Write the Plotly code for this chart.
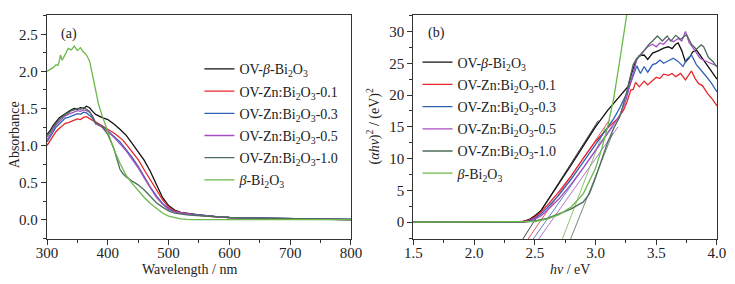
import plotly.graph_objects as go

# ---------------- data: panel (a) absorbance ----------------
wl_main = [300, 305, 310, 315, 320, 325, 330, 335, 340, 345, 350, 355, 360, 365, 370, 375, 380,
           390, 400, 410, 415, 420, 425, 430, 440, 450, 460, 470, 480, 490, 500, 510, 520, 530,
           540, 550, 575, 600, 650, 700, 750, 800]
abs_ov_beta = [1.15, 1.20, 1.27, 1.32, 1.37, 1.40, 1.43, 1.45, 1.48, 1.50, 1.49, 1.51, 1.50, 1.53, 1.51, 1.46, 1.42,
               1.38, 1.35, 1.29, 1.26, 1.22, 1.18, 1.14, 1.03, 0.92, 0.80, 0.65, 0.47, 0.30, 0.19, 0.13, 0.10, 0.085,
               0.075, 0.065, 0.045, 0.030, 0.020, 0.012, 0.006, 0.003]
abs_zn01 = [1.00, 1.06, 1.12, 1.19, 1.23, 1.27, 1.30, 1.31, 1.33, 1.34, 1.36, 1.35, 1.38, 1.39, 1.36, 1.34, 1.32,
            1.27, 1.23, 1.17, 1.14, 1.11, 1.07, 1.02, 0.92, 0.81, 0.67, 0.53, 0.40, 0.27, 0.17, 0.12, 0.095, 0.08,
            0.07, 0.06, 0.04, 0.028, 0.018, 0.010, 0.005, 0.002]
abs_zn03 = [1.05, 1.11, 1.18, 1.25, 1.29, 1.33, 1.37, 1.38, 1.40, 1.41, 1.43, 1.42, 1.45, 1.44, 1.41, 1.37, 1.29,
            1.26, 1.20, 1.13, 1.09, 1.05, 1.00, 0.95, 0.84, 0.72, 0.58, 0.44, 0.32, 0.22, 0.15, 0.11, 0.09, 0.08,
            0.07, 0.06, 0.045, 0.030, 0.020, 0.012, 0.006, 0.003]
abs_zn05 = [1.08, 1.14, 1.21, 1.28, 1.32, 1.36, 1.40, 1.42, 1.44, 1.45, 1.47, 1.46, 1.48, 1.47, 1.45, 1.40, 1.30,
            1.25, 1.19, 1.11, 1.07, 1.03, 0.98, 0.93, 0.82, 0.70, 0.56, 0.42, 0.30, 0.21, 0.14, 0.105, 0.09, 0.075,
            0.065, 0.058, 0.043, 0.030, 0.020, 0.012, 0.006, 0.003]
abs_zn10 = [1.12, 1.18, 1.25, 1.30, 1.35, 1.39, 1.42, 1.44, 1.47, 1.48, 1.50, 1.49, 1.51, 1.49, 1.46, 1.38, 1.31,
            1.26, 1.15, 0.96, 0.80, 0.68, 0.62, 0.58, 0.52, 0.47, 0.40, 0.31, 0.23, 0.17, 0.12, 0.09, 0.075, 0.065,
            0.058, 0.052, 0.042, 0.030, 0.020, 0.012, 0.006, 0.003]
wl_beta = [300, 305, 310, 315, 318, 320, 322, 325, 328, 330, 335, 340, 345, 350, 355, 360, 365, 370, 375,
           380, 385, 390, 400, 410, 420, 430, 440, 450, 460, 470, 480, 490, 500, 510, 520, 530, 540, 600, 700, 800]
abs_beta = [2.00, 2.02, 2.05, 2.09, 2.08, 2.13, 2.22, 2.15, 2.20, 2.24, 2.31, 2.29, 2.34, 2.28, 2.32, 2.26, 2.22, 2.14, 1.95,
            1.76, 1.55, 1.42, 1.19, 0.95, 0.76, 0.60, 0.49, 0.39, 0.30, 0.22, 0.15, 0.09, 0.05, 0.03, 0.012, 0.004, 0.0, 0.0, 0.0, 0.0]

# ---------------- data: panel (b) Tauc plot ----------------
hv_ov_beta = [1.5, 2.3, 2.4, 2.45, 2.5, 2.55, 2.6, 2.7, 2.8, 2.9, 3.0, 3.1, 3.2, 3.27, 3.3, 3.33, 3.36, 3.4, 3.43,
              3.47, 3.52, 3.56, 3.6, 3.63, 3.66, 3.68, 3.71, 3.74, 3.77, 3.8, 3.83, 3.87, 3.9, 3.95, 4.0]
tauc_ov_beta = [0, 0, 0.1, 0.4, 1.0, 1.8, 3.2, 6.1, 9.0, 12.0, 15.0, 17.6, 19.8, 21.4, 23.6, 25.3, 26.2, 26.3, 25.6,
                26.6, 27.0, 27.4, 27.6, 27.3, 28.0, 28.2, 27.0, 25.2, 25.8, 26.8, 27.1, 26.0, 25.2, 24.0, 22.5]
hv_zn01 = [1.5, 2.35, 2.45, 2.5, 2.55, 2.6, 2.7, 2.8, 2.9, 3.0, 3.1, 3.18, 3.23, 3.26, 3.29, 3.31, 3.33, 3.36, 3.4,
           3.43, 3.47, 3.5, 3.53, 3.56, 3.6, 3.63, 3.66, 3.7, 3.74, 3.77, 3.79, 3.82, 3.85, 3.88, 3.92, 3.96, 4.0]
tauc_zn01 = [0, 0, 0.3, 0.8, 1.6, 2.6, 4.8, 7.3, 10.1, 12.7, 14.8, 16.3, 17.6, 19.0, 20.8, 20.9, 22.0, 21.3, 22.2,
             21.6, 22.3, 22.8, 22.6, 23.3, 23.1, 23.4, 22.9, 23.4, 22.4, 23.2, 23.8, 22.6, 21.8, 21.5, 20.3, 19.4, 18.3]
hv_zn03 = [1.5, 2.4, 2.45, 2.5, 2.55, 2.6, 2.7, 2.8, 2.9, 3.0, 3.1, 3.15, 3.2, 3.26, 3.3, 3.34, 3.37, 3.4, 3.43,
           3.47, 3.5, 3.53, 3.56, 3.6, 3.64, 3.68, 3.72, 3.75, 3.79, 3.83, 3.87, 3.9, 3.95, 4.0]
tauc_zn03 = [0, 0, 0.2, 0.6, 1.3, 2.2, 4.3, 6.8, 9.5, 12.2, 14.8, 16.3, 18.0, 20.4, 22.5, 24.6, 23.4, 24.5, 23.6,
             24.8, 25.0, 25.5, 25.0, 25.4, 25.8, 25.3, 24.5, 25.6, 26.3, 24.8, 23.8, 23.2, 22.0, 20.5]
hv_zn05 = [1.5, 2.4, 2.45, 2.5, 2.55, 2.6, 2.7, 2.8, 2.9, 3.0, 3.1, 3.2, 3.25, 3.28, 3.31, 3.34, 3.37, 3.4, 3.43,
           3.47, 3.5, 3.53, 3.56, 3.6, 3.64, 3.68, 3.71, 3.74, 3.77, 3.8, 3.83, 3.86, 3.9, 3.95, 4.0]
tauc_zn05 = [0, 0, 0.15, 0.5, 1.0, 1.8, 3.7, 6.0, 8.6, 11.3, 14.0, 16.8, 19.2, 21.4, 23.8, 25.6, 26.4, 27.0, 27.6,
             28.0, 27.6, 28.2, 28.0, 28.8, 28.4, 28.9, 28.5, 30.0, 28.3, 27.5, 26.6, 25.8, 25.4, 25.0, 24.6]
hv_zn10 = [1.5, 2.4, 2.5, 2.6, 2.7, 2.8, 2.9, 2.95, 3.0, 3.05, 3.1, 3.15, 3.2, 3.25, 3.28, 3.31, 3.34, 3.37, 3.4,
           3.44, 3.47, 3.51, 3.55, 3.59, 3.62, 3.66, 3.7, 3.75, 3.79, 3.83, 3.87, 3.89, 3.93, 3.97, 4.0]
tauc_zn10 = [0, 0, 0.2, 0.6, 1.3, 2.1, 3.2, 4.5, 7.0, 9.8, 12.6, 14.8, 16.6, 20.0, 22.5, 24.8, 25.8, 26.2, 27.0,
             28.0, 28.5, 29.3, 28.5, 29.3, 28.5, 29.4, 28.8, 29.5, 28.0, 27.2, 27.9, 27.6, 25.9, 25.2, 24.4]
hv_beta = [1.5, 2.4, 2.5, 2.6, 2.7, 2.8, 2.9, 3.0, 3.05, 3.1, 3.15, 3.2, 3.25, 3.3]
tauc_beta = [0, 0, 0.1, 0.5, 1.2, 2.4, 4.5, 8.5, 11.5, 15.0, 19.5, 25.5, 32.0, 38.0]

# tangent (band-gap extrapolation) lines: x-intercept, slope, upper end value
tan_eg = [2.49, 2.54, 2.585, 2.63, 2.85, 2.78]
tan_slope = [30, 28, 27, 27, 48, 50]
tan_top = [16, 16, 15, 15, 14, 15]
tan_bottom = -3.0

names = ["OV-<i>β</i>-Bi<sub>2</sub>O<sub>3</sub>",
         "OV-Zn:Bi<sub>2</sub>O<sub>3</sub>-0.1",
         "OV-Zn:Bi<sub>2</sub>O<sub>3</sub>-0.3",
         "OV-Zn:Bi<sub>2</sub>O<sub>3</sub>-0.5",
         "OV-Zn:Bi<sub>2</sub>O<sub>3</sub>-1.0",
         "<i>β</i>-Bi<sub>2</sub>O<sub>3</sub>"]
colors = ["#111111", "#e8262b", "#2f62b4", "#a64fc4", "#4b6d5a", "#6cb84a"]

abs_x = [wl_main, wl_main, wl_main, wl_main, wl_main, wl_beta]
abs_y = [abs_ov_beta, abs_zn01, abs_zn03, abs_zn05, abs_zn10, abs_beta]
tauc_x = [hv_ov_beta, hv_zn01, hv_zn03, hv_zn05, hv_zn10, hv_beta]
tauc_y = [tauc_ov_beta, tauc_zn01, tauc_zn03, tauc_zn05, tauc_zn10, tauc_beta]

FONT = "Liberation Serif"
fig = go.Figure()

for i in range(6):
    fig.add_trace(go.Scatter(x=abs_x[i], y=abs_y[i], mode="lines", name=names[i],
                             line=dict(color=colors[i], width=1.3), xaxis="x", yaxis="y",
                             legend="legend", legendgroup="a%d" % i))
for i in range(6):
    xs = [tan_eg[i] + tan_bottom / tan_slope[i], tan_eg[i] + tan_top[i] / tan_slope[i]]
    fig.add_trace(go.Scatter(x=xs, y=[tan_bottom, tan_top[i]], mode="lines", showlegend=False,
                             line=dict(color=colors[i], width=0.8), xaxis="x2", yaxis="y2"))
for i in range(6):
    fig.add_trace(go.Scatter(x=tauc_x[i], y=tauc_y[i], mode="lines", name=names[i],
                             line=dict(color=colors[i], width=1.3), xaxis="x2", yaxis="y2",
                             legend="legend2", legendgroup="b%d" % i))

axis_common = dict(showline=True, linecolor="#333333", linewidth=1.3, mirror=True,
                   ticks="outside", ticklen=5, tickwidth=1.1, tickcolor="#333333",
                   showgrid=False, zeroline=False, automargin=False,
                   tickfont=dict(family=FONT, size=15, color="#222222"))
minor_common = dict(ticks="outside", ticklen=3, tickcolor="#333333")

# the page body adds an 8 px offset, so the figure is 8 px smaller and shifted
fig.update_layout(
    template="none",
    width=727, height=276,
    margin=dict(l=39, r=18, t=7, b=45, autoexpand=False),
    paper_bgcolor="white", plot_bgcolor="white",
    font=dict(family=FONT, size=14, color="#222222"),
    xaxis=dict(domain=[0, 0.4537], range=[300, 800], dtick=100, tick0=300, ticklabelstandoff=-5,
               minor=dict(dtick=50, **minor_common), anchor="y", **axis_common),
    yaxis=dict(range=[-0.26, 2.76], dtick=0.5, tick0=0, tickformat=".1f",
               minor=dict(dtick=0.25, **minor_common), anchor="x", **axis_common),
    xaxis2=dict(domain=[0.5467, 1], range=[1.5, 4.0], dtick=0.5, tick0=1.5, tickformat=".1f", ticklabelstandoff=-5,
                minor=dict(dtick=0.25, **minor_common), anchor="y2", **axis_common),
    yaxis2=dict(range=[-2.64, 32.6], dtick=5, tick0=0,
                minor=dict(dtick=2.5, **minor_common), anchor="x2", **axis_common),
    legend=dict(x=0.2275, y=0.829, xanchor="left", yanchor="top", bgcolor="rgba(0,0,0,0)",
                font=dict(family=FONT, size=14, color="#222222"), itemwidth=30,
                traceorder="grouped", tracegroupgap=1),
    legend2=dict(x=0.553, y=0.859, xanchor="left", yanchor="top", bgcolor="rgba(0,0,0,0)",
                 font=dict(family=FONT, size=14, color="#222222"), itemwidth=30,
                 traceorder="grouped", tracegroupgap=1),
    showlegend=True,
)

annots = [
    dict(text="Absorbance", x=-0.049, y=0.464, textangle=-90),
    dict(text="(<i>αhν</i>)<sup>2</sup> / (eV)<sup>2</sup>", x=0.487, y=0.504, textangle=-90),
    dict(text="Wavelength / nm", x=0.2134, y=-0.138, textangle=0),
    dict(text="<i>hν</i> / eV", x=0.78, y=-0.138, textangle=0),
    dict(text="(a)", x=0.033, y=0.915, textangle=0),
    dict(text="(b)", x=0.582, y=0.92, textangle=0),
]
for a in annots:
    fig.add_annotation(text=a["text"], x=a["x"], y=a["y"], xref="paper", yref="paper",
                       xanchor="center", yanchor="middle", textangle=a["textangle"], showarrow=False,
                       font=dict(family=FONT, size=14, color="#222222"))

fig.write_html("out.html")
